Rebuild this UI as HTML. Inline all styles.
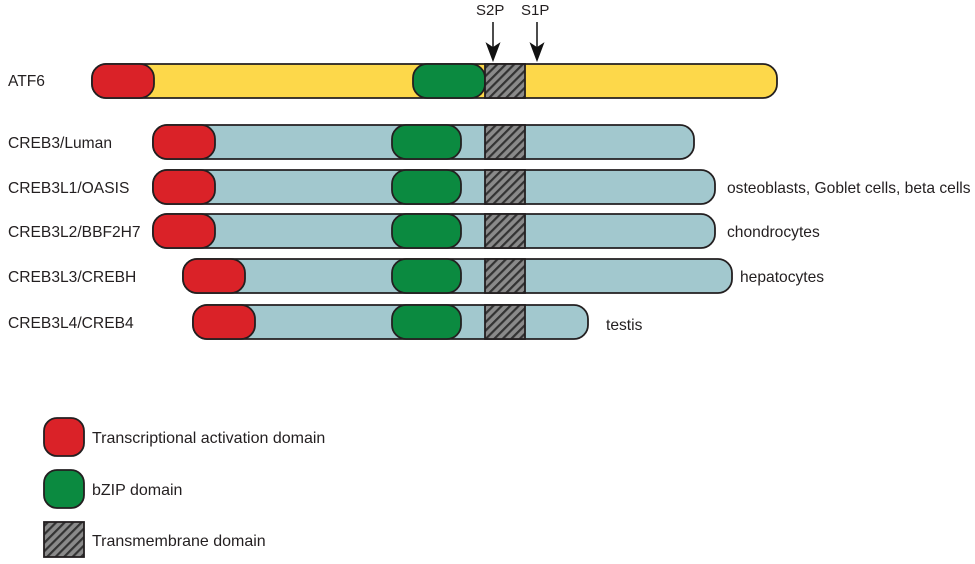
<!DOCTYPE html><html><head><style>body{margin:0;background:#fff}</style></head><body>
<svg width="975" height="559" xmlns="http://www.w3.org/2000/svg" font-family="Liberation Sans, sans-serif" font-size="15.6" fill="#231f20">
<defs><pattern id="h" width="6" height="6" patternUnits="userSpaceOnUse" patternTransform="rotate(45)"><rect width="6" height="6" fill="#8a8a8a"/><rect width="2.2" height="6" fill="#333"/></pattern></defs>
<g stroke="#231f20" stroke-width="1.8">
<rect x="92" y="64" width="685" height="34" rx="14" fill="#fdd84a"/>
<rect x="92" y="64" width="62" height="34" rx="14" fill="#da2228"/>
<rect x="413" y="64" width="72" height="34" rx="14" fill="#0b8a40"/>
<rect x="485" y="64" width="40" height="34" fill="url(#h)"/>
</g>
<g stroke="#111" stroke-width="1.5" fill="#111">
<line x1="493" y1="22" x2="493" y2="50"/><path d="M487,44 L493,60 L499,44 L493,48Z"/>
<line x1="537" y1="22" x2="537" y2="50"/><path d="M531,44 L537,60 L543,44 L537,48Z"/>
</g>
<text x="476" y="15" font-size="15">S2P</text><text x="521" y="15" font-size="15">S1P</text>
<text x="8" y="86">ATF6</text>
<g stroke="#231f20" stroke-width="1.8">
<rect x="153" y="125" width="541" height="34" rx="14" fill="#a2c8ce"/><rect x="153" y="125" width="62" height="34" rx="14" fill="#da2228"/><rect x="392" y="125" width="69" height="34" rx="14" fill="#0b8a40"/><rect x="485" y="125" width="40" height="34" fill="url(#h)"/>
<rect x="153" y="170" width="562" height="34" rx="14" fill="#a2c8ce"/><rect x="153" y="170" width="62" height="34" rx="14" fill="#da2228"/><rect x="392" y="170" width="69" height="34" rx="14" fill="#0b8a40"/><rect x="485" y="170" width="40" height="34" fill="url(#h)"/>
<rect x="153" y="214" width="562" height="34" rx="14" fill="#a2c8ce"/><rect x="153" y="214" width="62" height="34" rx="14" fill="#da2228"/><rect x="392" y="214" width="69" height="34" rx="14" fill="#0b8a40"/><rect x="485" y="214" width="40" height="34" fill="url(#h)"/>
<rect x="183" y="259" width="549" height="34" rx="14" fill="#a2c8ce"/><rect x="183" y="259" width="62" height="34" rx="14" fill="#da2228"/><rect x="392" y="259" width="69" height="34" rx="14" fill="#0b8a40"/><rect x="485" y="259" width="40" height="34" fill="url(#h)"/>
<rect x="193" y="305" width="395" height="34" rx="14" fill="#a2c8ce"/><rect x="193" y="305" width="62" height="34" rx="14" fill="#da2228"/><rect x="392" y="305" width="69" height="34" rx="14" fill="#0b8a40"/><rect x="485" y="305" width="40" height="34" fill="url(#h)"/>
<rect x="44" y="418" width="40" height="38" rx="13" fill="#da2228"/>
<rect x="44" y="470" width="40" height="38" rx="13" fill="#0b8a40"/>
<rect x="44" y="522" width="40" height="35" fill="url(#h)"/>
</g>
<text x="8" y="148">CREB3/Luman</text>
<text x="8" y="193">CREB3L1/OASIS</text>
<text x="8" y="237">CREB3L2/BBF2H7</text>
<text x="8" y="282">CREB3L3/CREBH</text>
<text x="8" y="328">CREB3L4/CREB4</text>
<text x="727" y="193">osteoblasts, Goblet cells, beta cells</text>
<text x="727" y="237">chondrocytes</text>
<text x="740" y="282">hepatocytes</text>
<text x="606" y="330">testis</text>
<g font-size="16">
<text x="92" y="443">Transcriptional activation domain</text>
<text x="92" y="495">bZIP domain</text>
<text x="92" y="546">Transmembrane domain</text>
</g>
</svg></body></html>
